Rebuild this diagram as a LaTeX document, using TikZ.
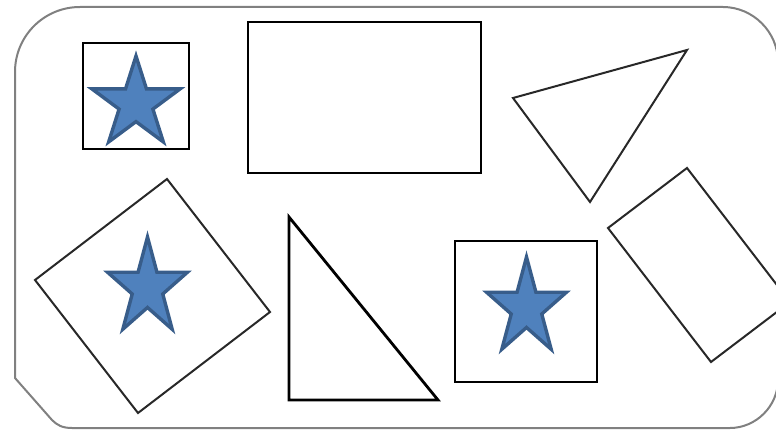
\documentclass[tikz,border=0pt]{standalone}
\usetikzlibrary{shapes.geometric}
\definecolor{starfill}{RGB}{79,129,189}
\definecolor{starline}{RGB}{56,93,138}
\definecolor{framegray}{RGB}{128,128,128}
\definecolor{shapeline}{RGB}{40,40,40}
\newcommand\mystar[4]{%
  \draw[starst] plot[samples at={0,...,9}, variable=\k]
    ({#1 + (mod(\k,2)==0 ? 1 : 0.382)*#3*cos(90+36*\k)},
     {#2 - (mod(\k,2)==0 ? 1 : 0.382)*#4*sin(90+36*\k)}) -- cycle;}
\begin{document}
\begin{tikzpicture}[x=1pt,y=-1pt,
  framest/.style={draw=framegray,line width=2pt},
  boldst/.style={draw=black,line width=2.8pt,line join=miter},
  thinst/.style={draw=shapeline,line width=2pt,line join=miter},
  starst/.style={fill=starfill,draw=starline,line width=3.4pt,line join=miter}]
\useasboundingbox (0,0) rectangle (776,430);
\clip (0,0) rectangle (776,430);
% outer frame
\draw[framest] (15,378) -- (15,72) .. controls (15,36) and (44,7) .. (80,7)
  -- (723,7) .. controls (753,7) and (778,32) .. (778,62)
  -- (778,380) .. controls (778,406) and (756,428) .. (730,428)
  -- (72,428) .. controls (62,428) and (57,425) .. (52,420) -- cycle;
% top-left square with star
\draw[boldst] (83,43) rectangle (189,149);
\mystar{136}{103.5}{46.5}{47.5}
% top rectangle
\draw[boldst] (248,22) rectangle (481,173);
% top-right triangle
\draw[thinst] (513,98) -- (687,50) -- (590,202) -- cycle;
% right rotated rectangle
\draw[thinst] (687,168) -- (608,228) -- (711,362) -- (790,302) -- cycle;
% bottom-left rotated square with star
\draw[thinst] (167,179) -- (35,280) -- (138,413) -- (270,312) -- cycle;
\mystar{147.5}{288}{42}{51}
% bottom right triangle
\draw[boldst] (289,217) -- (289,400) -- (438,400) -- cycle;
% bottom square with star
\draw[boldst] (455,241) rectangle (597,382);
\mystar{526.5}{308}{42}{51}
\end{tikzpicture}
\end{document}
